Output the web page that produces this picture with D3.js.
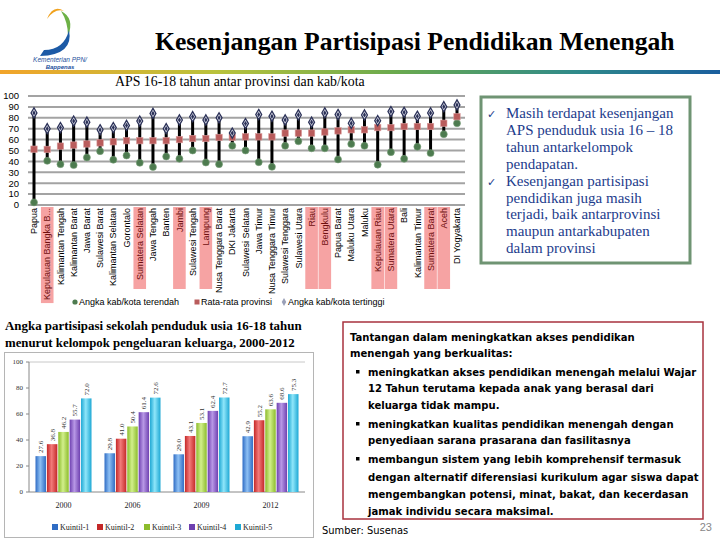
<!DOCTYPE html>
<html><head><meta charset="utf-8">
<script src="https://cdn.jsdelivr.net/npm/d3@7"></script>
<style>body{margin:0;background:#fff} svg{display:block}</style>
</head><body>
<script>
// ---------- data: top chart ----------
const provinces = ["Papua","Kepulauan Bangka B...","Kalimantan Tengah","Kalimantan Barat","Jawa Barat","Sulawesi Barat","Kalimantan Selatan","Gorontalo","Sumatera Selatan","Jawa Tengah","Banten","Jambi","Sulawesi Tengah","Lampung","Nusa Tenggara Barat","DKI Jakarta","Sulawesi Selatan","Jawa Timur","Nusa Tenggara Timur","Sulawesi Tenggara","Sulawesi Utara","Riau","Bengkulu","Papua Barat","Maluku Utara","Maluku","Kepulauan Riau","Sumatera Utara","Bali","Kalimantan Timur","Sumatera Barat","Aceh","DI Yogyakarta"];
const lowVals  = [2.4,40.5,37.5,36.6,43.6,49.4,41.5,45.4,38.7,34.8,44.5,42.4,50.0,39.0,37.5,54.3,50.0,39.3,35.0,54.3,58.5,52.0,52.0,41.8,56.0,54.3,37.0,48.5,42.4,53.4,47.6,65.0,75.0];
const meanVals = [51.2,51.0,54.0,55.0,56.0,57.0,58.0,59.0,59.0,59.0,59.0,60.0,61.0,61.0,62.0,62.0,62.5,62.5,62.5,66.0,66.0,66.0,67.0,68.0,69.0,69.0,71.0,71.0,72.0,72.0,72.0,75.0,81.0];
const highVals = [84.5,70.0,71.0,77.0,76.0,69.0,71.0,73.0,77.0,84.0,70.0,78.0,81.0,78.0,80.0,66.0,74.7,83.0,81.4,78.0,82.6,76.0,84.5,83.0,75.0,82.6,77.4,85.7,85.0,81.4,84.5,90.2,91.8];
const highlighted = ["Kepulauan Bangka B...","Sumatera Selatan","Jambi","Lampung","Riau","Bengkulu","Kepulauan Riau","Sumatera Utara","Sumatera Barat","Aceh"];
const topTicks = [0,10,20,30,40,50,60,70,80,90,100];
const topLegend = ["Angka kab/kota terendah","Rata-rata provinsi","Angka kab/kota tertinggi"];

// ---------- data: bottom chart ----------
const years = ["2000","2006","2009","2012"];
const kuintil = ["Kuintil-1","Kuintil-2","Kuintil-3","Kuintil-4","Kuintil-5"];
const k1 = [27.6,29.8,29.0,42.9];
const k2 = [36.8,41.0,43.1,55.2];
const k3 = [46.2,50.4,53.1,63.6];
const k4 = [55.7,61.4,62.4,68.6];
const k5 = [72.0,72.6,72.7,75.3];
const bottomTicks = [0,20,40,60,80,100];

// ---------- texts ----------
const title = "Kesenjangan Partisipasi Pendidikan Menengah";
const subtitle = "APS 16-18 tahun antar provinsi dan kab/kota";
const rightBox = [
  {b:true, t:"Masih terdapat kesenjangan"},
  {b:false,t:"APS penduduk usia 16 – 18"},
  {b:false,t:"tahun antarkelompok"},
  {b:false,t:"pendapatan."},
  {b:true, t:"Kesenjangan partisipasi"},
  {b:false,t:"pendidikan juga masih"},
  {b:false,t:"terjadi, baik antarprovinsi"},
  {b:false,t:"maupun antarkabupaten"},
  {b:false,t:"dalam provinsi"}
];
const bottomTitle = ["Angka partisipasi sekolah penduduk usia 16-18 tahun","menurut kelompok pengeluaran keluarga, 2000-2012"];
const challenge = [
  {b:0,t:"Tantangan dalam meningkatkan akses pendidikan"},
  {b:0,t:"menengah yang berkualitas:"},
  {b:1,t:"meningkatkan akses pendidikan menengah melalui Wajar"},
  {b:2,t:"12 Tahun terutama kepada anak yang berasal dari"},
  {b:2,t:"keluarga tidak mampu."},
  {b:1,t:"meningkatkan kualitas pendidikan menengah dengan"},
  {b:2,t:"penyediaan sarana prasarana dan fasilitasnya"},
  {b:1,t:"membangun sistem yang lebih komprehensif termasuk"},
  {b:2,t:"dengan alternatif diferensiasi kurikulum agar siswa dapat"},
  {b:2,t:"mengembangkan potensi, minat, bakat, dan kecerdasan"},
  {b:2,t:"jamak individu secara maksimal."}
];

const svg = d3.select("body").append("svg").attr("width",720).attr("height",540);
svg.append("rect").attr("width",720).attr("height",540).attr("fill","#fff");
const defs = svg.append("defs");
function fitWidth(sel, target){
  const w = sel.node().getComputedTextLength();
  sel.attr("font-size", (+sel.attr("font-size"))*target/w);
}

// ---------- header ----------
const hg = defs.append("linearGradient").attr("id","hdr").attr("x1","0").attr("x2","1");
[["0","#f2a42a"],["0.3","#b9c23c"],["0.55","#6aaa4e"],["0.8","#2f8a8a"],["1","#1a5e9e"]].forEach(s=>hg.append("stop").attr("offset",s[0]).attr("stop-color",s[1]));
svg.append("rect").attr("x",0).attr("y",70).attr("width",720).attr("height",4).attr("fill","url(#hdr)");

const logo = svg.append("g");
logo.append("path").attr("d","M47,19 Q53,4 64,11 Q55,8 47,19 Z").attr("fill","#f0a21e");
logo.append("path").attr("d","M61,11 Q75,18 68,36 Q68,22 61,11 Z").attr("fill","#6db146");
logo.append("path").attr("d","M40,56 Q74,55 69,30 Q64,50 44,50 Z").attr("fill","#1c5aa6");
logo.append("text").attr("x",60).attr("y",62).attr("text-anchor","middle").attr("font-family","Liberation Sans").attr("font-style","italic").attr("font-size",6.5).attr("fill","#1c4f9c").text("Kementerian PPN/");
logo.append("text").attr("x",60).attr("y",69).attr("text-anchor","middle").attr("font-family","Liberation Sans").attr("font-style","italic").attr("font-weight","bold").attr("font-size",6).attr("fill","#1c4f9c").text("Bappenas");

const tt = svg.append("text").attr("x",155).attr("y",50).attr("font-family","Liberation Serif").attr("font-weight","bold")
  .attr("font-size",28).attr("fill","#000").text(title);
fitWidth(tt,520);
const st = svg.append("text").attr("x",115).attr("y",86).attr("font-family","Liberation Serif")
  .attr("font-size",12.5).attr("fill","#000").text(subtitle);
fitWidth(st,250);

// ---------- top chart ----------
const x = d3.scalePoint().domain(provinces).range([34,457]);
const y = d3.scaleLinear().domain([0,100]).range([205,96]);
const tg = svg.append("g");
tg.selectAll("line.grid").data(topTicks).enter().append("line")
  .attr("x1",28).attr("x2",465).attr("y1",d=>y(d)).attr("y2",d=>y(d))
  .attr("stroke","#a3a3a3").attr("stroke-width",2);
tg.selectAll("text.yt").data(topTicks).enter().append("text")
  .attr("x",19).attr("y",d=>y(d)).attr("dy","0.35em").attr("text-anchor","end")
  .attr("font-family","Liberation Sans").attr("font-size",9.5).attr("fill","#000").text(d=>d);

const lab = tg.selectAll("g.lab").data(provinces).enter().append("g")
  .attr("transform",d=>`translate(${x(d)},208)`);
lab.each(function(d){
  const g = d3.select(this);
  const hl = highlighted.includes(d);
  const t = g.append("text").attr("transform","rotate(-90)").attr("dy","0.35em").attr("text-anchor","end")
    .attr("font-family","Liberation Sans").attr("font-size",9).attr("fill",hl?"#6e0f0f":"#000").text(d);
  if(hl){
    const len = t.node().getComputedTextLength();
    g.insert("rect","text").attr("x",-6.3).attr("y",-1).attr("width",12.6).attr("height",Math.max(len+4,82)).attr("fill","#f6a3a3");
  }
});

const idx = d3.range(provinces.length);
tg.selectAll("line.stem").data(idx).enter().append("line")
  .attr("x1",i=>x(provinces[i])).attr("x2",i=>x(provinces[i]))
  .attr("y1",i=>y(lowVals[i])).attr("y2",i=>y(highVals[i]))
  .attr("stroke","#000").attr("stroke-width",3);
tg.selectAll("circle.low").data(idx).enter().append("circle")
  .attr("cx",i=>x(provinces[i])).attr("cy",i=>y(lowVals[i])).attr("r",3.5)
  .attr("fill","#4d7b4f").attr("stroke","#7aa07a").attr("stroke-width",0.6);
tg.selectAll("rect.mean").data(idx).enter().append("rect")
  .attr("x",i=>x(provinces[i])-3.2).attr("y",i=>y(meanVals[i])-3.2).attr("width",6.4).attr("height",6.4)
  .attr("fill","#b95c5c").attr("stroke","#d99a9a").attr("stroke-width",0.6);
const dia = d3.symbol().type(d3.symbolDiamond).size(30);
const dia2 = d3.symbol().type(d3.symbolDiamond).size(8);
tg.selectAll("path.high").data(idx).enter().append("path")
  .attr("transform",i=>`translate(${x(provinces[i])},${y(highVals[i])})`).attr("d",dia)
  .attr("fill","#e8eaf2").attr("stroke","#2b3158").attr("stroke-width",1.3);
tg.selectAll("path.high2").data(idx).enter().append("path")
  .attr("transform",i=>`translate(${x(provinces[i])},${y(highVals[i])})`).attr("d",dia2)
  .attr("fill","#2b3158");

const lgX = [75,197,284];
const lg = tg.selectAll("g.lg").data(topLegend).enter().append("g").attr("transform",(d,i)=>`translate(${lgX[i]},302)`);
lg.each(function(d,i){
  const g = d3.select(this);
  if(i===0) g.append("circle").attr("r",2.6).attr("fill","#4d7b4f");
  if(i===1) g.append("rect").attr("x",-2.5).attr("y",-2.5).attr("width",5).attr("height",5).attr("fill","#b95c5c");
  if(i===2) g.append("path").attr("d",d3.symbol().type(d3.symbolDiamond).size(18)).attr("fill","#9aa0b8");
  g.append("text").attr("x",4).attr("dy","0.35em").attr("font-family","Liberation Sans").attr("font-size",9).attr("fill","#000").text(d);
});

// ---------- right text box ----------
svg.append("rect").attr("x",481).attr("y",97).attr("width",209).attr("height",166)
  .attr("fill","#fff").attr("stroke","#6f9473").attr("stroke-width",3);
const rb = svg.append("g");
rightBox.forEach((r,i)=>{
  const yy = 118 + i*16.9;
  if(r.b) rb.append("text").attr("x",487).attr("y",yy).attr("font-family","DejaVu Sans").attr("font-size",11).attr("fill","#1d3c8c").text("✓");
  rb.append("text").attr("x",506).attr("y",yy).attr("font-family","Liberation Serif").attr("font-size",15)
    .attr("fill","#1d3c8c").text(r.t);
});

// ---------- bottom-left chart ----------
bottomTitle.forEach((t,i)=>{
  const s = svg.append("text").attr("x",5).attr("y",330+i*17).attr("font-family","Liberation Serif").attr("font-weight","bold")
    .attr("font-size",13.5).text(t);
  fitWidth(s, i===0?297:290);
});
svg.append("rect").attr("x",4.5).attr("y",352.5).attr("width",309).attr("height",185).attr("fill","#fff").attr("stroke","#b5b5b5");

const barColors = [["#2f6cc4","#8ec0f4"],["#c42828","#f27a7a"],["#8cbc2c","#d2ef8c"],["#6e40b0","#b898e6"],["#1ea8d4","#8fe6fa"]];
barColors.forEach((c,i)=>{
  const g = defs.append("linearGradient").attr("id","bg"+i).attr("x1","0").attr("x2","1");
  g.append("stop").attr("offset","0").attr("stop-color",c[0]);
  g.append("stop").attr("offset","0.45").attr("stop-color",c[1]);
  g.append("stop").attr("offset","1").attr("stop-color",c[0]);
});
const x0 = d3.scaleBand().domain(years).range([29,305]);
const x1 = d3.scaleBand().domain(kuintil).range([0,56]).paddingInner(0.08);
const yb = d3.scaleLinear().domain([0,100]).range([492,362]);
const bg = svg.append("g");
bg.append("line").attr("x1",29).attr("x2",305).attr("y1",yb(100)).attr("y2",yb(100)).attr("stroke","#c8c8c8");
bg.append("line").attr("x1",29).attr("x2",29).attr("y1",yb(0)).attr("y2",yb(100)).attr("stroke","#888");
bg.append("line").attr("x1",29).attr("x2",305).attr("y1",yb(0)).attr("y2",yb(0)).attr("stroke","#888");
bg.selectAll("text.byt").data(bottomTicks).enter().append("text").attr("x",23).attr("y",d=>yb(d)).attr("dy","0.35em")
  .attr("text-anchor","end").attr("font-family","Liberation Serif").attr("font-size",7).attr("fill","#333").text(d=>d);
bg.selectAll("line.btk").data(bottomTicks).enter().append("line").attr("x1",26).attr("x2",29).attr("y1",d=>yb(d)).attr("y2",d=>yb(d)).attr("stroke","#888");
bg.selectAll("text.yr").data(years).enter().append("text").attr("x",d=>x0(d)+x0.bandwidth()/2).attr("y",508)
  .attr("text-anchor","middle").attr("font-family","Liberation Serif").attr("font-size",8).attr("fill","#222").text(d=>d);
const series = [k1,k2,k3,k4,k5];
const barData = [];
years.forEach((yr,yi)=>kuintil.forEach((k,ki)=>barData.push({yr,k,ki,v:series[ki][yi]})));
const gx = d=> x0(d.yr)+x0.bandwidth()/2-28+x1(d.k);
bg.selectAll("rect.bar").data(barData).enter().append("rect")
  .attr("x",gx).attr("y",d=>yb(d.v)).attr("width",x1.bandwidth()).attr("height",d=>yb(0)-yb(d.v))
  .attr("fill",d=>`url(#bg${d.ki})`);
bg.selectAll("text.bv").data(barData).enter().append("text")
  .attr("transform",d=>`translate(${gx(d)+x1.bandwidth()/2},${yb(d.v)-3}) rotate(-90)`).attr("dy","0.35em")
  .attr("font-family","Liberation Serif").attr("font-size",7).attr("fill","#333").text(d=>d.v.toFixed(1));
const blx = [55,100,147,192,238];
const bl = bg.selectAll("g.bl").data(kuintil).enter().append("g").attr("transform",(d,i)=>`translate(${blx[i]},527)`);
bl.append("rect").attr("x",-3).attr("y",-3).attr("width",6).attr("height",6).attr("fill",(d,i)=>barColors[i][0]);
bl.append("text").attr("x",5).attr("dy","0.35em").attr("font-family","Liberation Serif").attr("font-size",8).attr("fill","#222").text(d=>d);

// ---------- bottom-right text box ----------
svg.append("rect").attr("x",343).attr("y",322).attr("width",360).attr("height",197).attr("fill","none").attr("stroke","#a8323e").attr("stroke-width",1.5);
const cb = svg.append("g");
const cy = [341,357,376,392,409,428,444,463,481,498,515];
const cTexts = challenge.map((c,i)=>{
  const xx = c.b===0?350:368;
  if(c.b===1) cb.append("rect").attr("x",356).attr("y",cy[i]-6).attr("width",3.5).attr("height",3.5).attr("fill","#000");
  return cb.append("text").attr("x",xx).attr("y",cy[i]).attr("font-family","Liberation Sans Narrow, DejaVu Sans Condensed, DejaVu Sans")
    .attr("font-weight","bold").attr("font-size",13).attr("fill","#000").text(c.t);
});
let scale = 1;
cTexts.forEach(t=>{ const w=t.node().getComputedTextLength(); const room = 699 - (+t.attr("x")); scale = Math.min(scale, room/w); });
cTexts.forEach(t=>t.attr("font-size",13*scale));
svg.append("text").attr("x",322).attr("y",534).attr("font-family","DejaVu Sans Condensed, DejaVu Sans").attr("font-stretch","condensed").attr("font-size",11).attr("fill","#000").text("Sumber: Susenas");
svg.append("text").attr("x",712).attr("y",531).attr("text-anchor","end").attr("font-family","Liberation Sans").attr("font-size",11).attr("fill","#888").text("23");
</script>
</body></html>
